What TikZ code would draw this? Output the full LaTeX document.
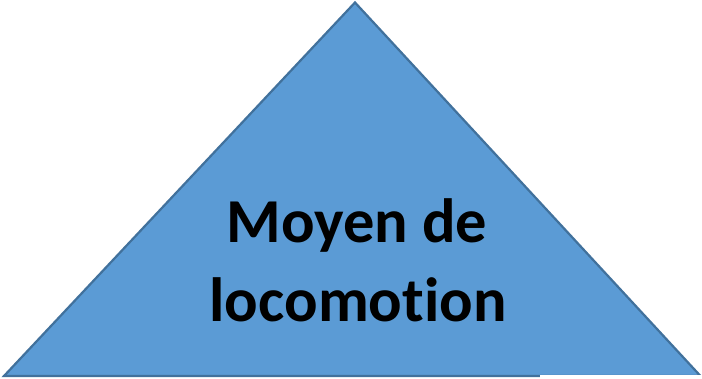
\documentclass[tikz,border=0pt]{standalone}
\usepackage{fontspec}
\setmainfont[Ligatures=NoCommon]{Carlito}
\definecolor{trifill}{HTML}{5B9BD5}
\definecolor{tridraw}{HTML}{41719C}
\tikzset{
  tri/.style={fill=trifill, draw=tridraw, line width=2.2pt, line join=miter},
  lbl/.style={font=\bfseries\fontsize{62.5}{74}\selectfont, text=black, inner sep=0pt, anchor=base}
}
\begin{document}
\begin{tikzpicture}[x=1pt,y=-1pt]
\useasboundingbox (0,0) rectangle (702,379);
\fill[white] (0,0) rectangle (702,379);
\coordinate (apex) at (355,2.5);
\coordinate (bl) at (4,376);
\coordinate (br) at (700.5,376);
\draw[tri] (apex) -- (br) -- (bl) -- cycle;
\fill[white] (540,375.3) rectangle (702,379);
\node[lbl] (l1) at (357,243) {Moyen de};
\node[lbl] (l2) at (358,322) {locomotion};
\end{tikzpicture}
\end{document}
